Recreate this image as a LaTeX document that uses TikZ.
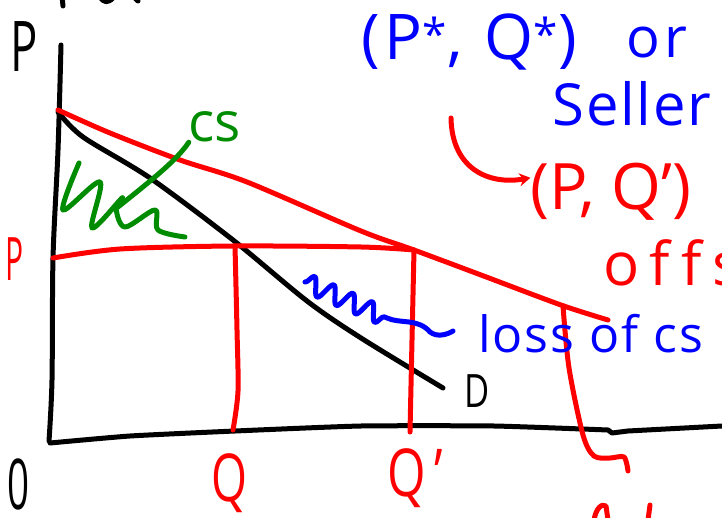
\documentclass[tikz,border=0pt]{standalone}
\usepackage{fontspec}
\setmainfont{Open Sans}
\usetikzlibrary{arrows.meta,decorations.pathmorphing}
\definecolor{hred}{RGB}{255,0,0}
\definecolor{hblue}{RGB}{0,0,255}
\definecolor{hgreen}{RGB}{0,140,0}
\newcommand\hfs[1]{\fontsize{#1}{#1}\selectfont}
\begin{document}
\begin{tikzpicture}[x=1pt,y=-1pt,
  pen/.style={line width=5pt,line cap=round,line join=round},
  blk/.style={pen,draw=black},
  rd/.style={pen,draw=hred},
  bl/.style={pen,draw=hblue},
  gr/.style={pen,draw=hgreen},
  every node/.style={inner sep=0pt,outer sep=0pt}]
\useasboundingbox (0,0) rectangle (722,518);
\clip (0,0) rectangle (722,518);

% axes
\draw[blk] plot[smooth] coordinates {(61,45) (58,150) (53,258) (52,380) (49,441)};
\draw[blk] plot[smooth,tension=0.3] coordinates {(50,443) (130,436) (235,431) (361,426) (494,426) (608,430)} -- (612,433) -- (628,431) -- (722,426);

% demand D
\draw[blk] plot[smooth] coordinates {(58,112) (83,137) (150,178) (233,240) (307,301) (361,338) (443,388)};
% red upper line
\draw[rd] plot[smooth] coordinates {(58,110) (110,133) (180,160) (247,182) (361,231) (414,250) (481,275) (561,305) (608,320)};
% price line P
\draw[rd] plot[smooth] coordinates {(53,258) (120,249) (233,246) (361,247) (414,250)};
% verticals
\draw[rd] plot[smooth] coordinates {(235,246) (237,330) (238,391) (233,430)};
\draw[rd] plot[smooth] coordinates {(414,250) (412,340) (410,432)};
\draw[rd] plot[smooth] coordinates {(563,306) (569,368) (583,435) (594,456) (610,458) (624,457) (628,471)};

% labels
\node[text=black,font=\hfs{70}] (plab) at (24,47) {\scalebox{0.65}[1]{P}};
\node[text=black,font=\hfs{70}] (olab) at (19,484) {\scalebox{0.55}[1]{0}};
\node[text=hred,font=\hfs{60}] (pred) at (15,259) {\scalebox{0.5}[1]{P}};
\node[text=hred,font=\hfs{66}] (qlab) at (229,483) {\scalebox{0.7}[1]{Q}};
\node[text=hred,font=\hfs{66}] (qplab) at (415,478) {\scalebox{0.75}[1]{Q\,’}};
\node[text=black,font=\hfs{46}] (dlab) at (477,391) {\scalebox{0.75}[1]{D}};
\node[text=hgreen,font=\hfs{55}] (cs) at (215,127) {cs};
\node[text=hblue,font={\hfs{63}\addfontfeature{LetterSpace=8}}] (pstar) at (469,42) {(P\textsuperscript{*}, Q\textsuperscript{*})};
\node[text=hblue,font={\hfs{56}\addfontfeature{LetterSpace=8}}] (orlab) at (657,43) {or};
\node[text=hblue,font={\hfs{58}\addfontfeature{LetterSpace=3}}] (seller) at (632,104) {Seller};
\node[text=hred,font=\hfs{64}] (pq2) at (611,192) {(P, Q’)};
\node[text=hred,font={\hfs{60}\addfontfeature{LetterSpace=18,Ligatures=NoCommon}},anchor=base west] (offs) at (603,286) {offs};
\node[text=hblue,font={\hfs{50}\addfontfeature{LetterSpace=4}},anchor=base west] (loss) at (478,352) {loss of cs};

% red arrow
\coordinate (arrstart) at (451,118);
\draw[rd,-{Stealth[length=11pt,width=13pt]}] (arrstart) .. controls (452,170) and (490,185) .. (pq2.170);

% green CS mark
\draw[gr] plot[smooth,tension=0.55] coordinates {(79,163) (63,210) (100,182) (92,228) (122,198) (116,208) (125,227) (155,210) (158,230) (185,237)};
\draw[gr] (cs.south west) .. controls (178,158) and (162,172) .. (118,207);

% blue squiggle
\coordinate (lossend) at (453,331);
\draw[bl,decoration={snake,amplitude=9pt,segment length=21pt}] (305,282) decorate {-- (387,318)} .. controls (400,324) and (418,318) .. (430,332) .. controls (438,338) and (448,334) .. (lossend);

% cut-off fragments at the edges
\draw[blk] (62,-4) -- (63,6);
\draw[blk] (100,-3) .. controls (104,3) and (108,3) .. (113,-2);
\draw[blk] (134,-3) -- (138,1);
\draw[rd] (594,520) .. controls (596,508) and (602,503) .. (606,506) -- (608,520);
\draw[rd] (650,505) -- (648,520);
\end{tikzpicture}
\end{document}
